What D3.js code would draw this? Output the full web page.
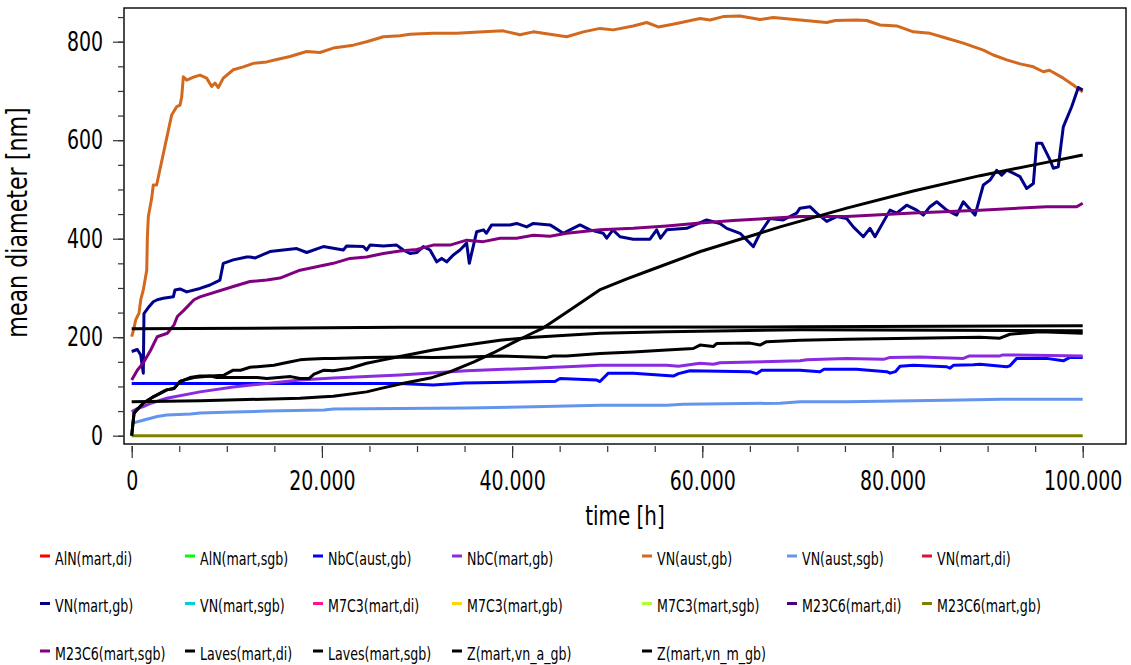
<!DOCTYPE html>
<html>
<head>
<meta charset="utf-8">
<script src="https://cdn.jsdelivr.net/npm/d3@7"></script>
<style>
  body { margin: 0; background: #fff; }
  text { font-family: "DejaVu Sans Condensed", "DejaVu Sans", sans-serif; fill: #000; }
</style>
</head>
<body>
<script>
// series data: [time h, mean diameter nm]
var nbcAustGb = [[0,106],[28200,106],[31700,103],[35000,107],[43640,110],[44500,110],[45040,116],[48890,113],[49240,110],[50120,127],[52740,127],[56950,121],[57500,126],[58700,132],[65010,130],[65700,126],[66250,133],[70270,133],[72370,130],[72800,135],[76200,135],[79400,130],[79750,127],[80300,130],[80790,141],[82190,143],[85700,140],[86050,137],[86400,143],[88500,144],[89200,145],[92010,140],[92350,142],[93060,157],[96200,157],[97960,152],[98660,159],[100000,159]];
var nbcMartGb = [[0,49],[590,55],[1220,59],[1920,65],[3680,76],[7180,89],[10680,99],[14200,106],[17700,113],[21200,117],[24700,120],[28200,123],[35220,132],[42230,137],[49240,143],[56260,143],[57500,141],[59760,147],[61160,145],[61860,148],[70270,152],[71000,154],[75180,157],[79050,155],[79750,159],[82890,160],[87450,157],[88100,162],[91300,162],[91600,164],[100000,162]];
var vnAustGb = [[0,201],[200,215],[420,235],[770,249],[950,276],[1220,296],[1580,336],[1650,404],[1750,445],[2100,482],[2270,509],[2620,509],[3330,573],[4200,651],[4730,668],[5080,671],[5260,688],[5430,729],[5780,722],[6500,728],[7180,732],[7880,726],[8410,709],[8760,716],[9110,707],[9630,726],[10680,743],[11740,749],[12790,756],[14200,759],[15250,764],[16650,770],[18400,780],[19800,778],[21200,787],[23300,793],[24700,800],[26460,810],[28200,812],[29250,815],[31700,817],[34170,817],[36970,820],[39070,822],[40830,814],[42230,820],[43640,816],[45740,810],[47490,820],[49240,827],[50640,824],[52740,832],[54150,839],[55370,830],[57300,837],[59760,847],[60800,844],[62210,851],[63960,852],[66070,845],[67470,849],[70270,844],[73080,839],[74000,843],[76240,844],[77290,843],[78690,834],[80440,832],[82190,820],[83950,817],[85700,807],[87450,797],[89550,783],[90600,773],[92010,763],[93410,755],[94810,749],[95860,739],[96500,742],[97960,726],[99010,712],[100000,698]];
var vnAustSgb = [[0,25],[1290,32],[2690,39],[3680,42],[6200,44],[7180,46],[10680,48],[14200,50],[20220,52],[21200,54],[28200,55],[35220,56],[42230,59],[49240,62],[56260,62],[58000,64],[68170,66],[70270,69],[75180,69],[82190,71],[85700,72],[91500,74],[100000,74]];
var vnMartGb = [[0,171],[590,175],[950,164],[1220,127],[1290,248],[1820,262],[2270,272],[2690,276],[3330,279],[4380,282],[4550,296],[5080,298],[5780,292],[7180,299],[8230,306],[9280,316],[9630,350],[10680,357],[12090,363],[12440,363],[13000,361],[14540,374],[15940,377],[17350,380],[18400,372],[20150,384],[22250,377],[22600,385],[24350,384],[24700,377],[25060,387],[26460,385],[27860,387],[28560,377],[29260,370],[30000,372],[30660,384],[31370,377],[32070,353],[32600,360],[33120,353],[33820,367],[34520,377],[35220,391],[35500,350],[36270,414],[37000,418],[37300,411],[37850,428],[39770,428],[40480,431],[41530,424],[42230,431],[43980,428],[44330,424],[45380,411],[46090,418],[47140,428],[48190,418],[49590,411],[49950,401],[50600,418],[51350,404],[52740,399],[54500,399],[55200,418],[55600,401],[56260,418],[58360,421],[60460,438],[61860,431],[62570,421],[63970,411],[65370,384],[66070,411],[67120,441],[68500,438],[69920,452],[70270,462],[71320,465],[72030,452],[73080,435],[74130,445],[75180,441],[75880,424],[76930,404],[77630,421],[78160,404],[79740,458],[80440,452],[81490,468],[82540,458],[83240,448],[83940,465],[84650,475],[85700,458],[86750,448],[87450,475],[88680,448],[89550,509],[90250,519],[90950,539],[91480,529],[92010,539],[92700,533],[93410,526],[94110,502],[94810,512],[95160,594],[95690,594],[96560,560],[96910,543],[97430,546],[97960,627],[98840,668],[99540,707],[100000,702]];
var m23c6MartGb = [[0,0],[100000,0]];
var m23c6MartSgb = [[0,113],[590,133],[1290,150],[2000,174],[2690,201],[3750,208],[4450,225],[4800,242],[5500,255],[6550,276],[7180,282],[10680,303],[12440,313],[14200,316],[15590,320],[17700,336],[19450,343],[21200,350],[22950,360],[24700,363],[26460,370],[28200,375],[29970,378],[31700,387],[33470,387],[35220,397],[36970,394],[38730,401],[40480,401],[42230,407],[43980,405],[45740,411],[49240,418],[52740,421],[56260,426],[59760,432],[63260,437],[66770,441],[70270,445],[75180,445],[82190,452],[89200,458],[96200,465],[99370,465],[100000,472]];
var lavesMartDi = [[0,217],[28200,220],[70270,221],[100000,223]];
var lavesMartSgb = [[0,0],[170,32],[240,45],[520,52],[1220,66],[2270,79],[3680,93],[4450,96],[5080,110],[5500,113],[6130,118],[7180,121],[8300,121],[9700,123],[10680,133],[11460,133],[12440,139],[13210,140],[14960,143],[15940,147],[16720,150],[17700,154],[18470,155],[20220,157],[21200,157],[24700,159],[28200,160],[31700,159],[35220,160],[38730,162],[43640,159],[44300,162],[45740,162],[49240,167],[52740,170],[56260,174],[59050,177],[59760,184],[61160,181],[61500,187],[65010,188],[66070,184],[66770,191],[70270,194],[75180,196],[82190,198],[89200,200],[91300,198],[92350,206],[95490,211],[100000,208]];
var zVnAGb = [[0,0],[170,32],[240,45],[520,52],[1220,66],[2270,79],[3680,93],[4450,96],[5080,110],[5500,113],[6550,118],[8300,121],[8940,118],[13210,118],[14200,116],[16720,120],[17700,116],[18640,116],[19170,125],[19450,127],[20220,133],[21200,132],[22950,137],[24700,147],[26460,154],[28200,161],[31700,174],[35220,184],[38730,194],[42230,200],[45740,204],[49240,208],[56260,211],[63260,213],[70270,215],[100000,213]];
var zVnMGb = [[0,69],[7180,71],[17700,76],[20220,79],[21200,80],[24700,89],[26000,95],[28200,105],[31400,117],[33500,130],[36000,150],[38000,168],[40000,188],[42000,207],[43300,219],[45700,250],[49200,296],[52000,318],[54500,336],[59800,374],[68170,424],[75180,462],[82190,497],[89200,528],[96200,555],[100000,570]];

var labels = ["AlN(mart,di)", "AlN(mart,sgb)", "NbC(aust,gb)", "NbC(mart,gb)", "VN(aust,gb)", "VN(aust,sgb)", "VN(mart,di)",
  "VN(mart,gb)", "VN(mart,sgb)", "M7C3(mart,di)", "M7C3(mart,gb)", "M7C3(mart,sgb)", "M23C6(mart,di)", "M23C6(mart,gb)",
  "M23C6(mart,sgb)", "Laves(mart,di)", "Laves(mart,sgb)", "Z(mart,vn_a_gb)", "Z(mart,vn_m_gb)"];
var colors = ["#ff0000", "#00ff00", "#0000ff", "#8a2be2", "#d2691e", "#6495ed", "#dc143c",
  "#00008b", "#00ced1", "#ff1493", "#ffd700", "#adff2f", "#4b0082", "#808000",
  "#800080", "#000000", "#000000", "#000000", "#000000"];
var seriesData = [[], [], nbcAustGb, nbcMartGb, vnAustGb, vnAustSgb, [],
  vnMartGb, [], [], [], [], [], m23c6MartGb,
  m23c6MartSgb, lavesMartDi, lavesMartSgb, zVnAGb, zVnMGb];

var xMajor = [0, 20000, 40000, 60000, 80000, 100000];
var yMajor = [0, 200, 400, 600, 800];

var width = 1131, height = 665;
var svg = d3.select("body").append("svg")
  .attr("width", width)
  .attr("height", height);

// plot frame
var frame = {left: 124, top: 8, right: 1126, bottom: 444};

var x = d3.scaleLinear().domain([0, 100000]).range([131.7, 1082.7]);
var y = d3.scaleLinear().domain([0, 800]).range([435.7, 41.7]);

var fmt = d3.formatLocale({decimal: ",", thousands: ".", grouping: [3], currency: ["", ""]}).format(",d");

// the original font is narrow, squeeze the text horizontally
var tickSx = 0.81, legSx = 0.78;

svg.append("clipPath").attr("id", "clip")
  .append("rect")
  .attr("x", frame.left).attr("y", frame.top)
  .attr("width", frame.right - frame.left).attr("height", frame.bottom - frame.top);

// lines
var line = d3.line()
  .x(function(d) { return x(d[0]); })
  .y(function(d) { return y(d[1]); });

var g = svg.append("g").attr("clip-path", "url(#clip)");
seriesData.forEach(function(s, i) {
  if (!s.length) return;
  g.append("path")
    .datum(s)
    .attr("fill", "none")
    .attr("stroke", colors[i])
    .attr("stroke-width", 3)
    .attr("stroke-linejoin", "round")
    .attr("d", line);
});

svg.append("rect")
  .attr("x", frame.left).attr("y", frame.top)
  .attr("width", frame.right - frame.left).attr("height", frame.bottom - frame.top)
  .attr("fill", "none")
  .attr("stroke", "#000")
  .attr("stroke-width", 1.4);

// x axis: minor then major ticks
svg.append("g")
  .attr("transform", "translate(0,446)")
  .call(d3.axisBottom(x).tickValues(d3.range(0, 100001, 5000)).tickSize(6).tickFormat(""))
  .call(function(a) { a.select(".domain").remove(); a.selectAll("line").attr("stroke", "#333").attr("stroke-width", 1.2); });

svg.append("g")
  .attr("transform", "translate(0,446)")
  .call(d3.axisBottom(x).tickValues(xMajor).tickSize(12).tickPadding(13.5).tickFormat(fmt))
  .call(function(a) {
    a.select(".domain").remove();
    a.selectAll("line").attr("stroke", "#333").attr("stroke-width", 1.2);
    a.selectAll("text").style("font-size", "26px").attr("fill", "#000")
      .attr("transform", "scale(" + tickSx + ",1)");
  });

// y axis
svg.append("g")
  .attr("transform", "translate(" + frame.left + ",0)")
  .call(d3.axisLeft(y).tickValues(d3.range(0, 851, 50)).tickSize(6).tickFormat(""))
  .call(function(a) { a.select(".domain").remove(); a.selectAll("line").attr("stroke", "#333").attr("stroke-width", 1.2); });

svg.append("g")
  .attr("transform", "translate(" + frame.left + ",0)")
  .call(d3.axisLeft(y).tickValues(yMajor).tickSize(11).tickPadding(10))
  .call(function(a) {
    a.select(".domain").remove();
    a.selectAll("line").attr("stroke", "#333").attr("stroke-width", 1.2);
    a.selectAll("text").style("font-size", "26px").attr("fill", "#000")
      .attr("x", -21 / tickSx)
      .attr("transform", "scale(" + tickSx + ",1)");
  });

// axis titles
svg.append("text")
  .attr("transform", "translate(625,525) scale(0.82,1)")
  .attr("text-anchor", "middle")
  .style("font-size", "27px")
  .text("time [h]");

svg.append("text")
  .attr("transform", "translate(27,222.5) rotate(-90) scale(0.85,1)")
  .attr("text-anchor", "middle")
  .style("font-size", "29px")
  .text("mean diameter [nm]");

// legend, 7 columns
var legendX = [40, 185, 313, 452, 642, 787, 922];
var legendY = [564.5, 612, 659.5];
var legend = svg.append("g");
labels.forEach(function(lab, i) {
  var cx = legendX[i % 7], cy = legendY[Math.floor(i / 7)];
  legend.append("rect")
    .attr("x", cx).attr("y", cy - 10)
    .attr("width", 10).attr("height", 3)
    .attr("fill", colors[i]);
  legend.append("text")
    .attr("transform", "translate(" + (cx + 15) + "," + cy + ") scale(" + legSx + ",1)")
    .style("font-size", "18px")
    .text(lab);
});
</script>
</body>
</html>
